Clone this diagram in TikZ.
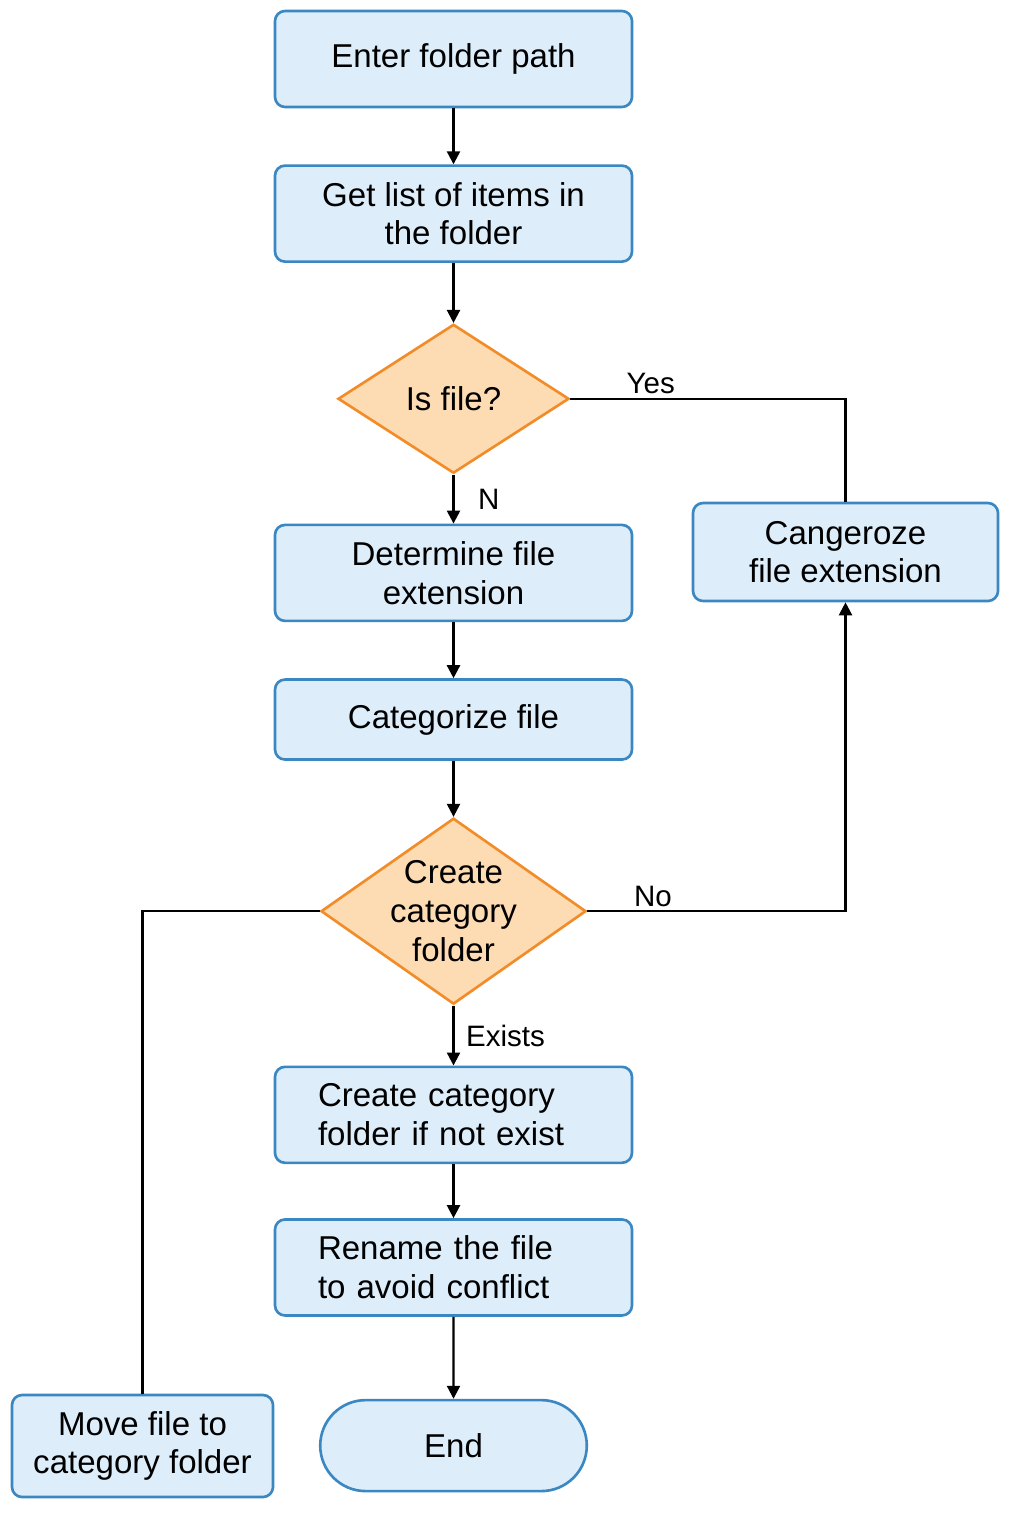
\documentclass[tikz,border=0pt]{standalone}
\usepackage{fontspec}
\setmainfont{Liberation Sans}
\usetikzlibrary{positioning}
\usetikzlibrary{arrows.meta}
\usetikzlibrary{shapes.geometric, shapes.misc}

\definecolor{boxfill}{HTML}{DDEEFA}
\definecolor{boxline}{HTML}{3A87C2}
\definecolor{decfill}{HTML}{FDDBB3}
\definecolor{decline}{HTML}{F28C28}

\begin{document}
\begin{tikzpicture}[ align = center
                     , node distance = 0.56cm
                     , font = \fontsize{9.4}{11}\selectfont
                     , >={Triangle[width=1.3mm, length=1.3mm]}
                     , line width = 0.65pt
                     ]

    \useasboundingbox (0,0) rectangle (10.24,-15.36);

    \tikzset{ process/.style = {rectangle, rounded corners=0.1cm, draw=boxline,
                                fill=boxfill, line width=0.75pt,
                                minimum width=3.57cm, minimum height=0.96cm}
            , decision/.style = {diamond, draw=decline, fill=decfill,
                                 line width=0.75pt, inner sep=-1.5pt}
            , terminal/.style = {rounded rectangle, draw=boxline, fill=boxfill,
                                 line width=0.75pt}
            , lefttext/.style = {align=left, text width=2.71cm}
            , tag/.style = {font=\fontsize{8.4}{10}\selectfont, inner sep=1pt}}
    %%
    %% Nodes
    %%
    \node (enter)      [process] at (4.535,-0.59) {Enter folder path};
    \node (getlist)    [process, below = 0.56 of enter]     {Get list of items in\\the folder};
    \node (isfile)     [decision, shape aspect=1.55, minimum width=2.31cm,
                        minimum height=1.49cm, below = 0.60 of getlist] {Is file?};
    \node (determine)  [process, below = 0.49 of isfile]    {Determine file\\extension};
    \node (categorize) [process, minimum height=0.80cm,
                        below = 0.56 of determine]          {Categorize file};
    \node (create)     [decision, shape aspect=1.42, minimum width=2.65cm,
                        minimum height=1.86cm, below = 0.56 of categorize] {Create\\category\\folder};
    \node (createcat)  [process, lefttext,
                        below = 0.60 of create]             {Create category\\folder if not exist};
    \node (rename)     [process, lefttext,
                        below = 0.54 of createcat]          {Rename the file\\to avoid conflict};
    \node (end)        [terminal, minimum width=2.9cm, minimum height=0.91cm,
                        below = 0.82 of rename]             {End};
    \node (cangeroze)  [process, minimum width=3.05cm, minimum height=0.98cm]
                        at (8.455,-5.52)                    {Cangeroze\\file extension};
    \node (move)       [process, minimum width=2.61cm, minimum height=1.02cm]
                        at (1.425,-14.46)                   {Move file to\\category folder};

    %%
    %% Connectors
    %%
    \draw[->] (enter) -- (getlist);
    \draw[->] (getlist) -- (isfile);
    \draw[->] (isfile) -- node[tag, right=0.2cm] {N} (determine);
    \draw (isfile.east) -| node[tag, above, pos=0.146] {Yes} (cangeroze.north);
    \draw[->] (determine) -- (categorize);
    \draw[->] (categorize) -- (create);
    \draw[->] (create.east) -| node[tag, above, pos=0.127] {No} (cangeroze.south);
    \draw (create.west) -| (move.north);
    \draw[->] (create) -- node[tag, right=0.08cm] {Exists} (createcat);
    \draw[->] (createcat) -- (rename);
    \draw[->] (rename) -- (end);
  \end{tikzpicture}
\end{document}
